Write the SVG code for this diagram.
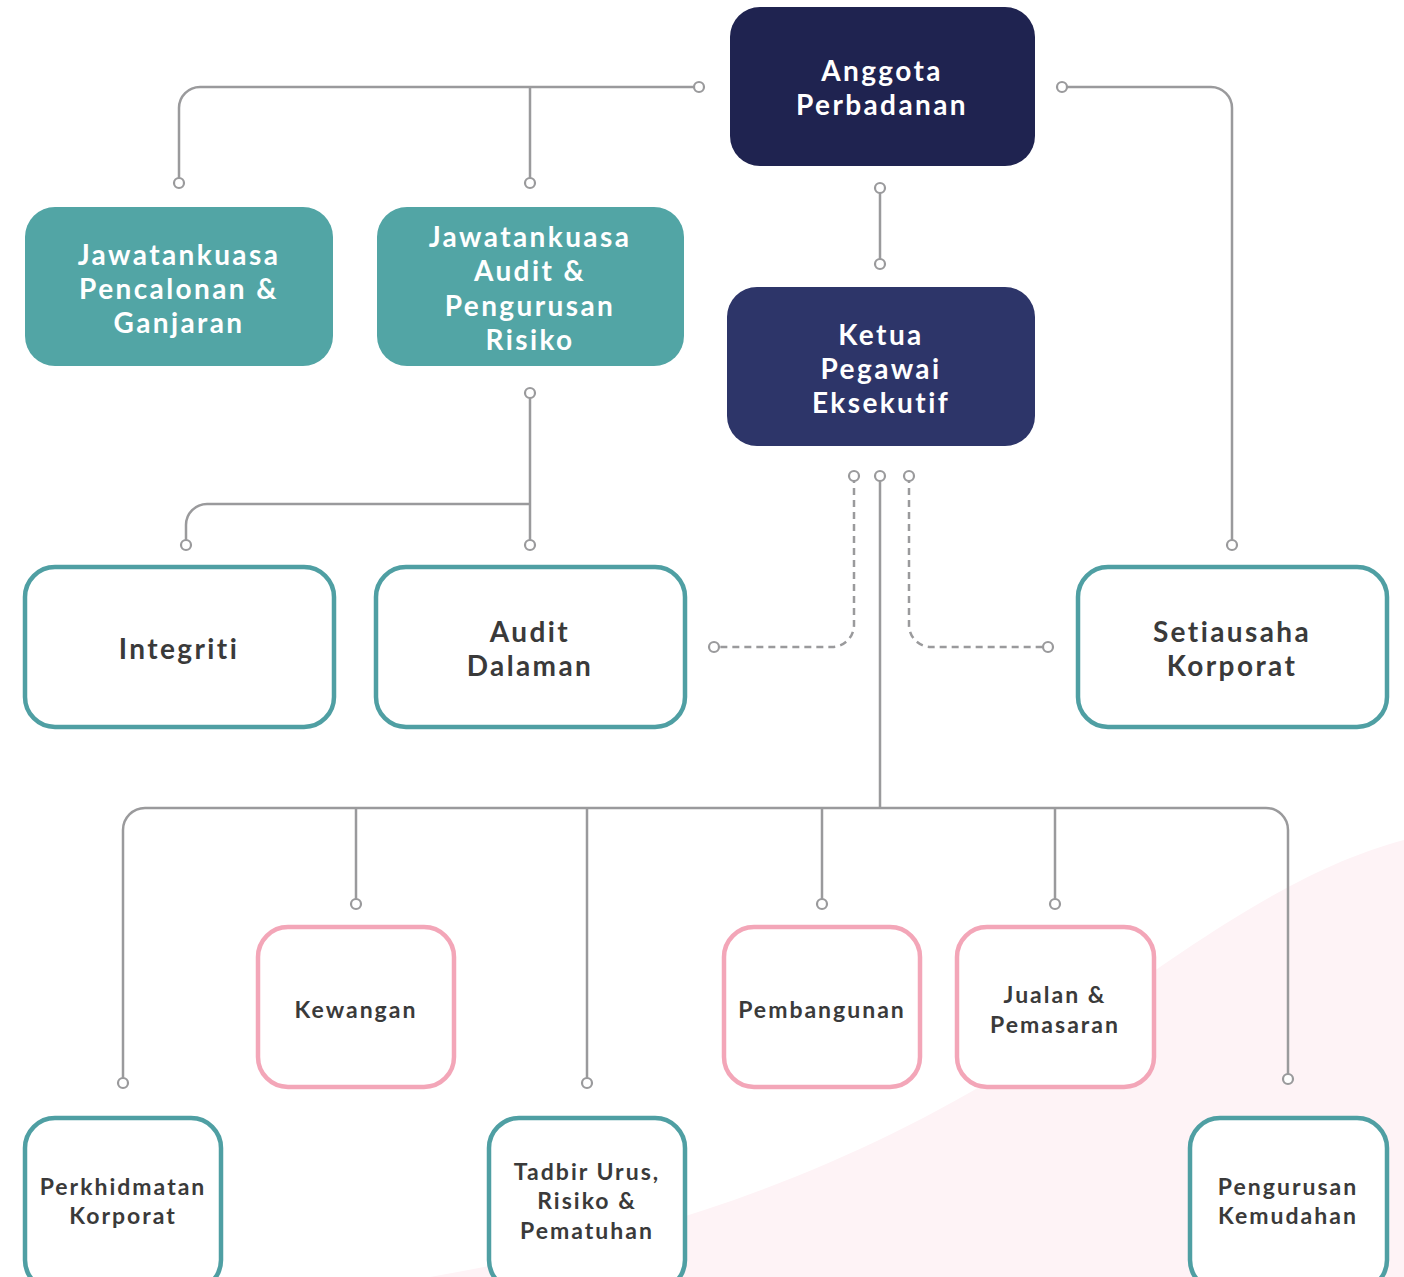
<svg xmlns="http://www.w3.org/2000/svg" width="1404" height="1277" viewBox="0 0 1404 1277">
<style>
.t{font-family:Lato,"Liberation Sans",sans-serif;font-weight:700;text-anchor:middle}
.w{fill:#ffffff;font-size:28px;letter-spacing:2.4px}
.d{fill:#3a3a3a;font-size:28px;letter-spacing:2.4px}
.s{fill:#3a3a3a;font-size:23px;letter-spacing:2px}
.ln{fill:none;stroke:#9a9a9c;stroke-width:2.5}
.da{stroke-dasharray:7 5}
.dot{fill:#ffffff;stroke:#9a9a9c;stroke-width:2.2}
.teal{fill:#ffffff;stroke:#4f9fa3;stroke-width:4.5}
.pink{fill:#ffffff;stroke:#f3a6b8;stroke-width:4.5}
</style>
<rect width="1404" height="1277" fill="#ffffff"/>
<path d="M430 1277 C700 1230 900 1150 1100 1010 C1250 900 1330 860 1404 840 L1404 1277 Z" fill="#fef3f6"/>
<g id="connectors">
<path class="ln" d="M699 87 H200 A21 21 0 0 0 179 108 V183"/>
<path class="ln" d="M530 87 V183"/>
<path class="ln" d="M1062 87 H1211 A21 21 0 0 1 1232 108 V545"/>
<path class="ln" d="M880 188 V264"/>
<path class="ln" d="M530 393 V545"/>
<path class="ln" d="M530 504 H207 A21 21 0 0 0 186 525 V545"/>
<path class="ln" d="M880 476 V808"/>
<path class="ln da" d="M854 476 V625 A22 22 0 0 1 832 647 H714"/>
<path class="ln da" d="M909 476 V625 A22 22 0 0 0 931 647 H1048"/>
<path class="ln" d="M123 1083 V830 A22 22 0 0 1 145 808 H1266 A22 22 0 0 1 1288 830 V1079"/>
<path class="ln" d="M356 808 V904"/>
<path class="ln" d="M587 808 V1083"/>
<path class="ln" d="M822 808 V904"/>
<path class="ln" d="M1055 808 V904"/>
<circle class="dot" cx="699" cy="87" r="5"/>
<circle class="dot" cx="179" cy="183" r="5"/>
<circle class="dot" cx="530" cy="183" r="5"/>
<circle class="dot" cx="1062" cy="87" r="5"/>
<circle class="dot" cx="1232" cy="545" r="5"/>
<circle class="dot" cx="880" cy="188" r="5"/>
<circle class="dot" cx="880" cy="264" r="5"/>
<circle class="dot" cx="530" cy="393" r="5"/>
<circle class="dot" cx="530" cy="545" r="5"/>
<circle class="dot" cx="186" cy="545" r="5"/>
<circle class="dot" cx="854" cy="476" r="5"/>
<circle class="dot" cx="880" cy="476" r="5"/>
<circle class="dot" cx="909" cy="476" r="5"/>
<circle class="dot" cx="714" cy="647" r="5"/>
<circle class="dot" cx="1048" cy="647" r="5"/>
<circle class="dot" cx="123" cy="1083" r="5"/>
<circle class="dot" cx="356" cy="904" r="5"/>
<circle class="dot" cx="587" cy="1083" r="5"/>
<circle class="dot" cx="822" cy="904" r="5"/>
<circle class="dot" cx="1055" cy="904" r="5"/>
<circle class="dot" cx="1288" cy="1079" r="5"/>
</g>
<g id="anggota">
<rect x="730" y="7" width="305" height="159" rx="30" fill="#1f2350"/>
<text class="t w" x="882" y="81">Anggota</text>
<text class="t w" x="882" y="115">Perbadanan</text>
</g>
<g id="ketua">
<rect x="727" y="287" width="308" height="159" rx="30" fill="#2d3569"/>
<text class="t w" x="881" y="345">Ketua</text>
<text class="t w" x="881" y="379">Pegawai</text>
<text class="t w" x="881" y="413">Eksekutif</text>
</g>
<g id="jk-pencalonan">
<rect x="25" y="207" width="308" height="159" rx="30" fill="#52a5a5"/>
<text class="t w" x="179" y="265">Jawatankuasa</text>
<text class="t w" x="179" y="299">Pencalonan &amp;</text>
<text class="t w" x="179" y="333">Ganjaran</text>
</g>
<g id="jk-audit">
<rect x="377" y="207" width="307" height="159" rx="30" fill="#52a5a5"/>
<text class="t w" x="530" y="247">Jawatankuasa</text>
<text class="t w" x="530" y="281">Audit &amp;</text>
<text class="t w" x="530" y="316">Pengurusan</text>
<text class="t w" x="530" y="350">Risiko</text>
</g>
<g id="integriti">
<rect class="teal" x="25" y="567" width="309" height="160" rx="30"/>
<text class="t d" x="179" y="659">Integriti</text>
</g>
<g id="audit-dalaman">
<rect class="teal" x="376" y="567" width="309" height="160" rx="30"/>
<text class="t d" x="530" y="642">Audit</text>
<text class="t d" x="530" y="676">Dalaman</text>
</g>
<g id="setiausaha">
<rect class="teal" x="1078" y="567" width="309" height="160" rx="30"/>
<text class="t d" x="1232" y="642">Setiausaha</text>
<text class="t d" x="1232" y="676">Korporat</text>
</g>
<g id="kewangan">
<rect class="pink" x="258" y="927" width="196" height="160" rx="30"/>
<text class="t s" x="356" y="1018">Kewangan</text>
</g>
<g id="pembangunan">
<rect class="pink" x="724" y="927" width="196" height="160" rx="30"/>
<text class="t s" x="822" y="1018">Pembangunan</text>
</g>
<g id="jualan">
<rect class="pink" x="957" y="927" width="197" height="160" rx="30"/>
<text class="t s" x="1055" y="1003">Jualan &amp;</text>
<text class="t s" x="1055" y="1033">Pemasaran</text>
</g>
<g id="perkhidmatan">
<rect class="teal" x="25" y="1118" width="196" height="172" rx="30"/>
<text class="t s" x="123" y="1195">Perkhidmatan</text>
<text class="t s" x="123" y="1224">Korporat</text>
</g>
<g id="tadbir">
<rect class="teal" x="489" y="1118" width="196" height="172" rx="30"/>
<text class="t s" x="587" y="1180">Tadbir Urus,</text>
<text class="t s" x="587" y="1209">Risiko &amp;</text>
<text class="t s" x="587" y="1239">Pematuhan</text>
</g>
<g id="pengurusan-kemudahan">
<rect class="teal" x="1190" y="1118" width="197" height="172" rx="30"/>
<text class="t s" x="1288" y="1195">Pengurusan</text>
<text class="t s" x="1288" y="1224">Kemudahan</text>
</g>
</svg>
